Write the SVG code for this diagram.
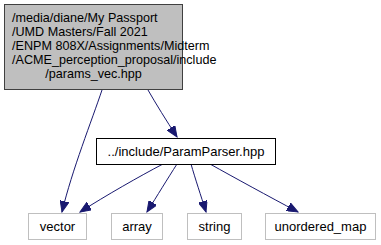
<svg xmlns="http://www.w3.org/2000/svg" width="381" height="245" viewBox="0 0 381 245">
  <style>
    text { font-family: "Liberation Sans", Arial, sans-serif; font-size: 13px; fill: #000; }
    .main text { font-size: 12.6px; }
    .main rect { fill: #bfbfbf; stroke: #404040; stroke-width: 1; }
    .local rect { fill: #fff; stroke: #000; stroke-width: 1; }
    .sys rect { fill: #fff; stroke: #bfbfbf; stroke-width: 1; }
    .edge { fill: none; stroke: #191970; stroke-width: 1; }
  </style>
  <defs>
    <marker id="arrow" markerUnits="userSpaceOnUse" markerWidth="12" markerHeight="9" refX="11" refY="4.5" orient="auto">
      <path d="M0,0 L11,4.5 L0,9 z" fill="#191970" stroke="#191970" stroke-width="1"/>
    </marker>
  </defs>

  <g id="connectors">
    <path class="edge" d="M102,90 C92,120 72,170 62,212" marker-end="url(#arrow)"/>
    <path class="edge" d="M148,90 C156,104 166,120 177,137" marker-end="url(#arrow)"/>
    <path class="edge" d="M163,164 C140,176 105,196 80,212" marker-end="url(#arrow)"/>
    <path class="edge" d="M177,164 C168,178 157,196 147,212" marker-end="url(#arrow)"/>
    <path class="edge" d="M191,164 C195,178 201,196 206,212" marker-end="url(#arrow)"/>
    <path class="edge" d="M210,164 C235,178 268,196 298,212" marker-end="url(#arrow)"/>
  </g>

  <g id="node_params_vec" class="main">
    <rect x="4.5" y="4.5" width="178" height="85"/>
    <text x="12" y="22">/media/diane/My Passport</text>
    <text x="12" y="36">/UMD Masters/Fall 2021</text>
    <text x="12" y="50">/ENPM 808X/Assignments/Midterm</text>
    <text x="12" y="64">/ACME_perception_proposal/include</text>
    <text x="93.5" y="78" text-anchor="middle">/params_vec.hpp</text>
  </g>

  <g id="node_paramparser" class="local">
    <rect x="96.5" y="138.5" width="179" height="26"/>
    <text x="186" y="156" text-anchor="middle">../include/ParamParser.hpp</text>
  </g>

  <g id="node_vector" class="sys">
    <rect x="28.5" y="213.5" width="58" height="26"/>
    <text x="57.5" y="231" text-anchor="middle">vector</text>
  </g>

  <g id="node_array" class="sys">
    <rect x="111.5" y="213.5" width="51" height="26"/>
    <text x="137" y="231" text-anchor="middle">array</text>
  </g>

  <g id="node_string" class="sys">
    <rect x="187.5" y="213.5" width="54" height="26"/>
    <text x="214.5" y="231" text-anchor="middle">string</text>
  </g>

  <g id="node_unordered_map" class="sys">
    <rect x="265.5" y="213.5" width="110" height="26"/>
    <text x="320.5" y="231" text-anchor="middle">unordered_map</text>
  </g>
</svg>
